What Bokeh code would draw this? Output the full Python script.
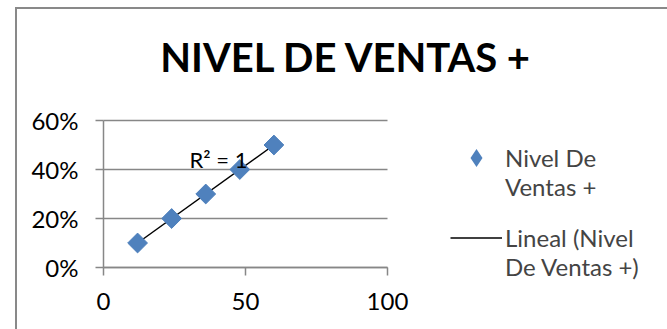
import numpy as np
from bokeh.plotting import figure
from bokeh.models import (Range1d, FixedTicker, NumeralTickFormatter, Legend, LegendItem,
                          Label)
from bokeh.embed import file_html
from bokeh.resources import INLINE

# ---- data ----
title_text = "NIVEL DE VENTAS +"
x_vals = [12, 24, 36, 48, 60]
y_vals = [0.10, 0.20, 0.30, 0.40, 0.50]
x_ticks = [0, 50, 100]
y_ticks = [0.0, 0.2, 0.4, 0.6]
series_name = "Nivel De\nVentas +"
trend_name = "Lineal (Nivel\nDe Ventas +)"

FONT = "Lato"
GRAY = "#878787"
BLUE = "#4F81BD"

# ---- layout (pixels) ----
W, H = 667, 329
AX_L, AX_R, AX_T, AX_B = 103, 387, 120, 267   # where the axes' extremes sit
xs = (AX_R - AX_L) / (x_ticks[-1] - x_ticks[0])
ys = (AX_B - AX_T) / (y_ticks[-1] - y_ticks[0])

p = figure(width=W, height=H, output_backend="svg", toolbar_location=None,
           x_range=Range1d(x_ticks[0] - AX_L / xs, x_ticks[0] + (W - AX_L) / xs),
           y_range=Range1d(y_ticks[0] - (H - AX_B) / ys, y_ticks[0] + AX_B / ys),
           min_border=0, min_border_left=0, min_border_right=0,
           min_border_top=0, min_border_bottom=0)
p.title.visible = False
p.outline_line_color = None
p.background_fill_color = None
p.border_fill_color = None
p.styles = {"background": "linear-gradient(#898989,#898989) 15px 7px / 2px 600px no-repeat, "
                          "linear-gradient(#898989,#898989) 15px 7px / 900px 2px no-repeat white"}

# axes
for ax in (p.xaxis[0], p.yaxis[0]):
    ax.fixed_location = 0
    ax.axis_line_color = GRAY
    ax.axis_line_width = 1.5
    ax.major_tick_line_color = GRAY
    ax.major_tick_line_width = 1.5
    ax.major_tick_out = 8
    ax.major_tick_in = 0
    ax.minor_tick_line_color = None
    ax.major_label_text_font = FONT
    ax.major_label_text_font_size = "24px"
    ax.major_label_text_color = "black"
    ax.major_label_standoff = 17
p.xaxis.ticker = FixedTicker(ticks=x_ticks)
p.xaxis.bounds = (x_ticks[0], x_ticks[-1])
p.yaxis.ticker = FixedTicker(ticks=y_ticks)
p.yaxis.bounds = (y_ticks[0], y_ticks[-1])
p.yaxis.formatter = NumeralTickFormatter(format="0%")

# horizontal gridlines across the x-axis extent
p.xgrid.visible = False
p.ygrid.visible = False
p.segment(x0=[x_ticks[0]] * len(y_ticks), x1=[x_ticks[-1]] * len(y_ticks),
          y0=y_ticks, y1=y_ticks, line_color=GRAY, line_width=1.5, level="underlay")

# trendline (least squares fit)
m, b = np.polyfit(x_vals, y_vals, 1)
tx = [min(x_vals), max(x_vals)]
ty = [m * v + b for v in tx]
trend = p.line(tx, ty, line_color="black", line_width=1.5)

pts = p.scatter(x_vals, y_vals, marker="square", angle=np.pi / 4, size=14,
                fill_color=BLUE, line_color=BLUE)
# legend swatch: same points with zero size, so only the legend shows its diamond
swatch = p.scatter(x_vals, y_vals, marker="diamond", size=0,
                   fill_color=BLUE, line_color=None)

# R^2 label
yhat = np.polyval([m, b], x_vals)
ss_res = np.sum((np.array(y_vals) - yhat) ** 2)
ss_tot = np.sum((np.array(y_vals) - np.mean(y_vals)) ** 2)
r2 = 1 - ss_res / ss_tot
p.add_layout(Label(x=30.3, y=0.441, text=f"R² = {r2:.0f}", text_font=FONT,
                   text_font_size="22px", text_color="black",
                   text_baseline="alphabetic", text_align="left"))

# title
p.add_layout(Label(x=346, y=H - 56, x_units="screen", y_units="screen", text=title_text,
                   text_font=FONT, text_font_size="40px", text_font_style="bold",
                   text_align="center", text_baseline="alphabetic", text_color="black"))

def make_legend(label, renderer, loc):
    return Legend(items=[LegendItem(label="\n" + label, renderers=[renderer])],
                  location=loc, orientation="vertical",
                  glyph_width=52, glyph_height=45, label_standoff=3,
                  label_text_font=FONT, label_text_font_size="24px",
                  spacing=0, padding=0, margin=0,
                  border_line_color=None, background_fill_alpha=0)

p.add_layout(make_legend(series_name, swatch, (450, 128)), "center")
p.add_layout(make_legend(trend_name, trend, (450, 48)), "center")

open("out.html", "w").write(file_html(p, INLINE))
